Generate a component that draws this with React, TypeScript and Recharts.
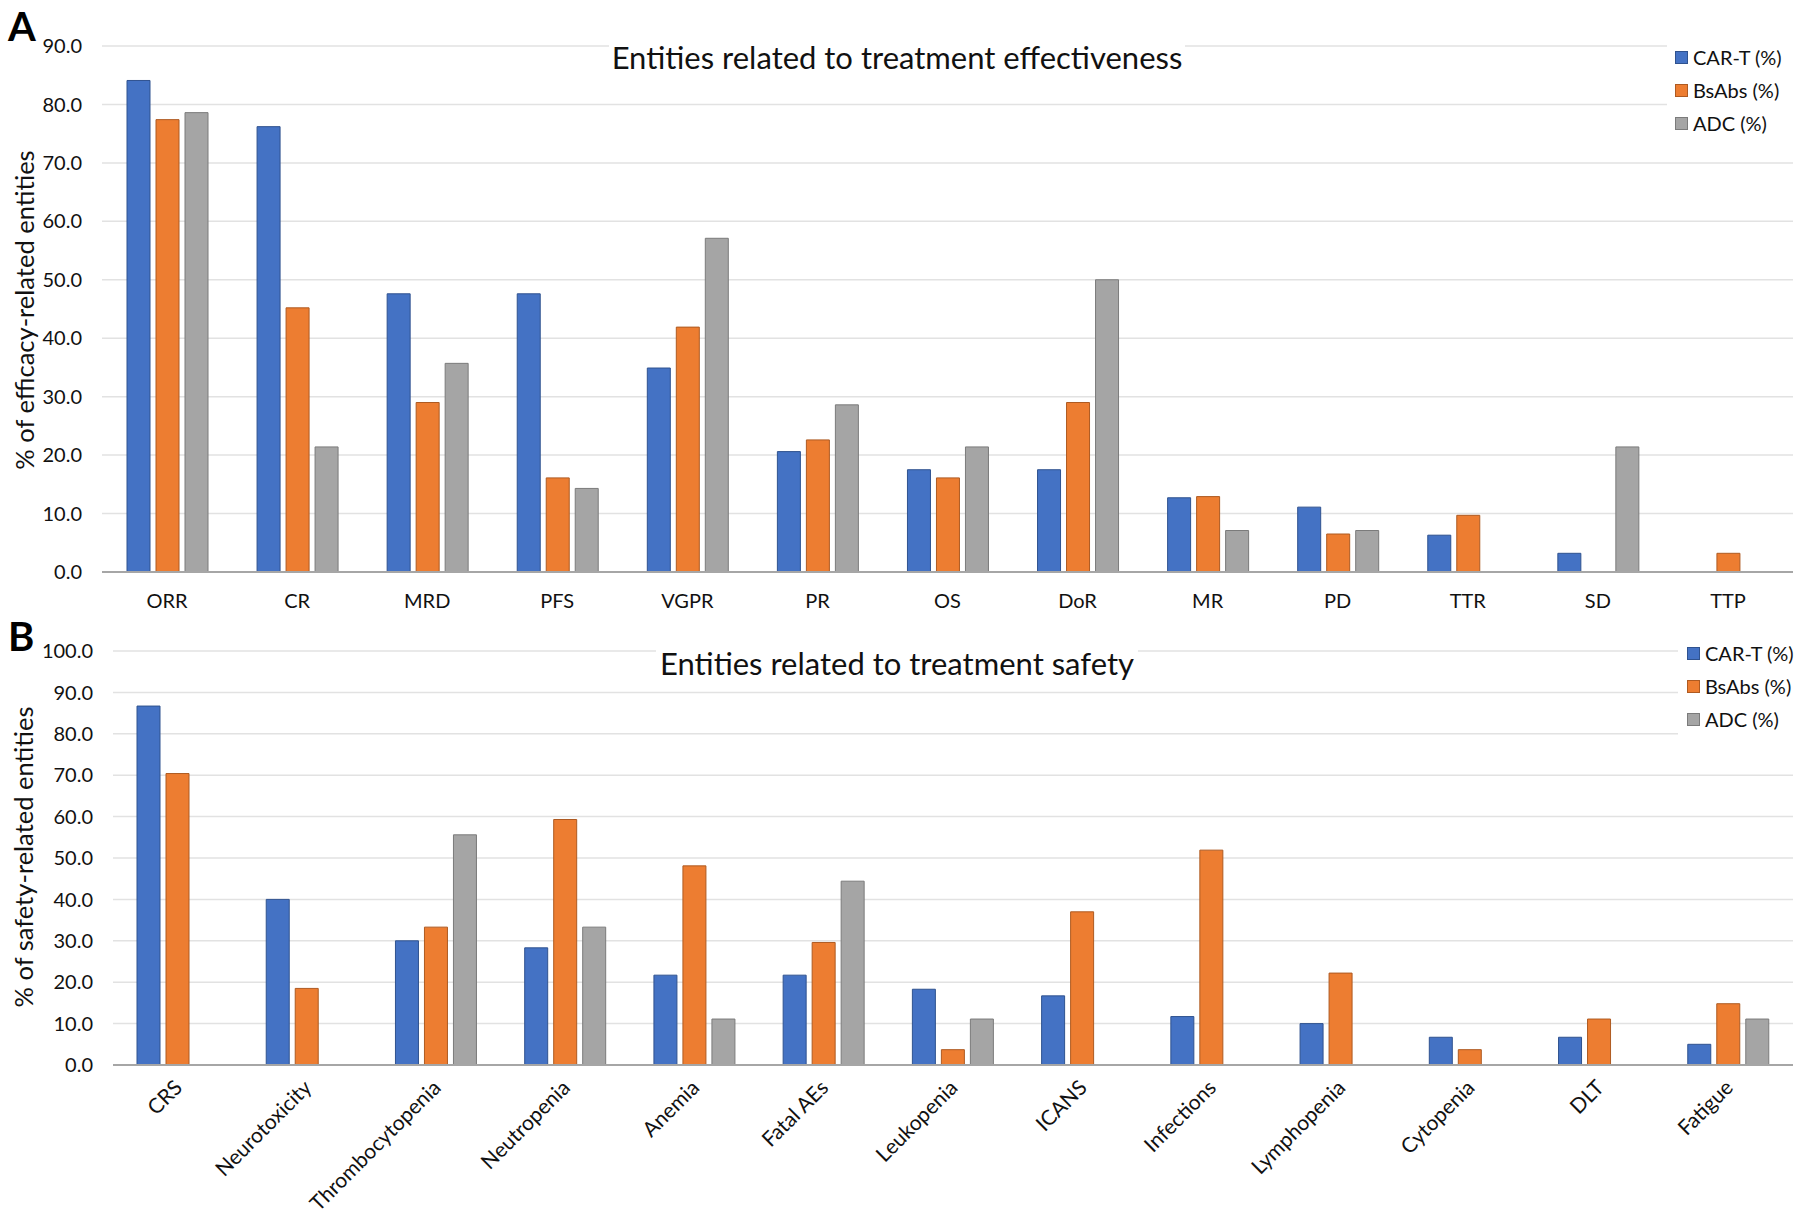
import React from 'react';
import { BarChart, Bar, XAxis, YAxis, CartesianGrid, Legend } from 'recharts';

const FONT = "Lato, 'Open Sans', sans-serif";
const TEXT = '#111111';

const seriesNames = ['CAR-T (%)', 'BsAbs (%)', 'ADC (%)'];
const seriesFill = ['#4472C4', '#ED7D31', '#A5A5A5'];
const seriesStroke = ['#2F528F', '#AE5A21', '#7B7B7B'];

const efficacyCategories = ['ORR', 'CR', 'MRD', 'PFS', 'VGPR', 'PR', 'OS', 'DoR', 'MR', 'PD', 'TTR', 'SD', 'TTP'];
const efficacyCART = [84.1, 76.2, 47.6, 47.6, 34.9, 20.6, 17.5, 17.5, 12.7, 11.1, 6.3, 3.2, null];
const efficacyBsAbs = [77.4, 45.2, 29.0, 16.1, 41.9, 22.6, 16.1, 29.0, 12.9, 6.5, 9.7, null, 3.2];
const efficacyADC = [78.6, 21.4, 35.7, 14.3, 57.1, 28.6, 21.4, 50.0, 7.1, 7.1, null, 21.4, null];
const efficacyTicks = [0, 10, 20, 30, 40, 50, 60, 70, 80, 90];

const safetyCategories = ['CRS', 'Neurotoxicity', 'Thrombocytopenia', 'Neutropenia', 'Anemia', 'Fatal AEs', 'Leukopenia', 'ICANS', 'Infections', 'Lymphopenia', 'Cytopenia', 'DLT', 'Fatigue'];
const safetyCART = [86.7, 40.0, 30.0, 28.3, 21.7, 21.7, 18.3, 16.7, 11.7, 10.0, 6.7, 6.7, 5.0];
const safetyBsAbs = [70.4, 18.5, 33.3, 59.3, 48.1, 29.6, 3.7, 37.0, 51.9, 22.2, 3.7, 11.1, 14.8];
const safetyADC = [null, null, 55.6, 33.3, 11.1, 44.4, 11.1, null, null, null, null, null, 11.1];
const safetyTicks = [0, 10, 20, 30, 40, 50, 60, 70, 80, 90, 100];

const keys = ['cart', 'bsabs', 'adc'];

const buildRows = (cats: string[], a: (number | null)[], b: (number | null)[], c: (number | null)[]) =>
  cats.map((name, i) => ({ name, cart: a[i], bsabs: b[i], adc: c[i] }));

const efficacyData = buildRows(efficacyCategories, efficacyCART, efficacyBsAbs, efficacyADC);
const safetyData = buildRows(safetyCategories, safetyCART, safetyBsAbs, safetyADC);

const makeLegend = (boxW: number, boxH: number, sqLeft: number, textLeft: number, rowTops: number[]) => (props: any) => {
  const payload = [...(props.payload || [])].sort(
    (a: any, b: any) => seriesNames.indexOf(a.value) - seriesNames.indexOf(b.value)
  );
  return (
    <div style={{ position: 'relative', width: boxW, height: boxH, background: '#fff' }}>
      {payload.map((entry: any, i: number) => {
        const idx = seriesNames.indexOf(entry.value);
        return (
          <div key={entry.value}>
            <div
              style={{
                position: 'absolute', left: sqLeft, top: rowTops[i] - 6.5, width: 11, height: 11,
                background: seriesFill[idx], border: `1px solid ${seriesStroke[idx]}`,
              }}
            />
            <div
              style={{
                position: 'absolute', left: textLeft, top: rowTops[i] - 14, height: 28, lineHeight: '28px',
                fontFamily: FONT, fontSize: 20, color: TEXT, whiteSpace: 'nowrap',
              }}
            >
              {entry.value}
            </div>
          </div>
        );
      })}
    </div>
  );
};

const RotatedTick = (props: any) => {
  const { x, y, payload } = props;
  return (
    <g transform={`translate(${x + 6},${y + 16})`}>
      <text textAnchor="end" transform="rotate(-45)" fontSize={21} fill={TEXT} fontFamily={FONT}>
        {payload.value}
      </text>
    </g>
  );
};

const fmt = (v: number) => v.toFixed(1);

const renderBars = () =>
  keys.map((k, i) => (
    <Bar
      key={k}
      dataKey={k}
      name={seriesNames[i]}
      fill={seriesFill[i]}
      stroke={seriesStroke[i]}
      strokeWidth={1}
      isAnimationActive={false}
    />
  ));

export default function App() {
  return (
    <div style={{ position: 'absolute', left: 0, top: 0, width: 1800, height: 1221, background: '#fff', fontFamily: FONT }}>
      {/* Panel A */}
      <div style={{ position: 'absolute', left: 0, top: 0 }}>
        <BarChart
          width={1800}
          height={620}
          data={efficacyData}
          margin={{ top: 46, right: 7, left: 42, bottom: 18 }}
          barSize={23}
          barGap={6}
        >
          <CartesianGrid vertical={false} stroke="#e2e2e2" strokeWidth={1.5} />
          <XAxis
            dataKey="name"
            interval={0}
            tickLine={false}
            axisLine={{ stroke: '#a6a6a6', strokeWidth: 2 }}
            tickMargin={16}
            height={30}
            tick={{ fontSize: 20, fill: TEXT, fontFamily: FONT }}
          />
          <YAxis
            domain={[0, 90]}
            ticks={efficacyTicks}
            tickFormatter={fmt}
            axisLine={false}
            tickLine={false}
            tickMargin={14}
            width={60}
            tick={{ fontSize: 20, fill: TEXT, fontFamily: FONT }}
          />
          <Legend
            layout="horizontal"
            verticalAlign="middle"
            align="center"
            wrapperStyle={{ position: 'absolute', left: 1667, top: 38, width: 126, height: 102 }}
            content={makeLegend(126, 102, 8, 26, [19, 52, 85])}
          />
          {renderBars()}
        </BarChart>
      </div>

      {/* Panel B */}
      <div style={{ position: 'absolute', left: 0, top: 620 }}>
        <BarChart
          width={1800}
          height={601}
          data={safetyData}
          margin={{ top: 31, right: 7, left: 53, bottom: 6 }}
          barSize={23}
          barGap={6}
        >
          <CartesianGrid vertical={false} stroke="#e2e2e2" strokeWidth={1.5} />
          <XAxis
            dataKey="name"
            interval={0}
            tickLine={false}
            axisLine={{ stroke: '#a6a6a6', strokeWidth: 2 }}
            height={150}
            tick={<RotatedTick />}
          />
          <YAxis
            domain={[0, 100]}
            ticks={safetyTicks}
            tickFormatter={fmt}
            axisLine={false}
            tickLine={false}
            tickMargin={14}
            width={60}
            tick={{ fontSize: 20, fill: TEXT, fontFamily: FONT }}
          />
          <Legend
            layout="horizontal"
            verticalAlign="middle"
            align="center"
            wrapperStyle={{ position: 'absolute', left: 1678, top: 20, width: 122, height: 106 }}
            content={makeLegend(122, 106, 9, 27, [13, 46, 79])}
          />
          {renderBars()}
        </BarChart>
      </div>

      {/* Titles & labels */}
      <div style={{ position: 'absolute', left: 609, top: 32, width: 576, height: 50, lineHeight: '50px', background: '#fff', textAlign: 'center', fontSize: 31, color: TEXT, whiteSpace: 'nowrap' }}>
        Entities related to treatment effectiveness
      </div>
      <div style={{ position: 'absolute', left: 656, top: 638, width: 482, height: 50, lineHeight: '50px', background: '#fff', textAlign: 'center', fontSize: 31, color: TEXT, whiteSpace: 'nowrap' }}>
        Entities related to treatment safety
      </div>
      <div style={{ position: 'absolute', left: 24, top: 310, transform: 'translate(-50%, -50%) rotate(-90deg)', whiteSpace: 'nowrap', fontSize: 25.5, color: TEXT }}>
        % of efficacy-related entities
      </div>
      <div style={{ position: 'absolute', left: 23, top: 857, transform: 'translate(-50%, -50%) rotate(-90deg)', whiteSpace: 'nowrap', fontSize: 25.5, color: TEXT }}>
        % of safety-related entities
      </div>
      <div style={{ position: 'absolute', left: 8, top: 2, fontSize: 40, fontWeight: 700, color: '#000', lineHeight: '48px' }}>A</div>
      <div style={{ position: 'absolute', left: 8, top: 612, fontSize: 40, fontWeight: 700, color: '#000', lineHeight: '48px' }}>B</div>
    </div>
  );
}
